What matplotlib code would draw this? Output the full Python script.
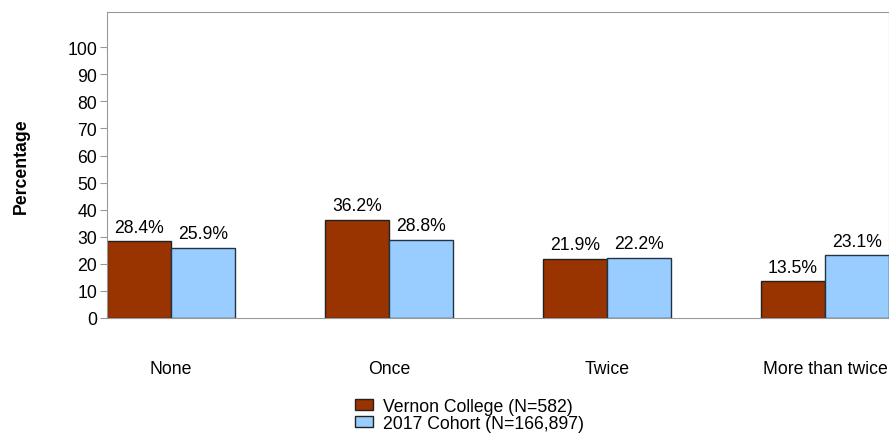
import numpy as np
import matplotlib.pyplot as plt
from matplotlib.patches import Patch

categories = ['None', 'Once', 'Twice', 'More than twice']
vernon = [28.4, 36.2, 21.9, 13.5]
cohort = [25.9, 28.8, 22.2, 23.1]
series_names = ['Vernon College (N=582)', '2017 Cohort (N=166,897)']
colors = ['#993300', '#99CCFF']

plt.rcParams['font.family'] = ['Liberation Sans', 'DejaVu Sans']
fs = 12.7

fig = plt.figure(figsize=(8.89, 4.35), dpi=100)
ax = fig.add_axes([107 / 889, 1 - 319 / 435, 782 / 889, 306 / 435])

x = np.arange(len(categories))
w = 0.294
b1 = ax.bar(x - w / 2, vernon, w, color=colors[0], edgecolor='#222222', linewidth=1)
b2 = ax.bar(x + w / 2, cohort, w, color=colors[1], edgecolor='#223344', linewidth=1)

for bars, vals in ((b1, vernon), (b2, cohort)):
    for r, v in zip(bars, vals):
        ax.annotate(f'{v:.1f}%', (r.get_x() + r.get_width() / 2, v),
                    xytext=(0, 4), textcoords='offset points',
                    ha='center', va='bottom', fontsize=fs)

ax.set_xlim(-w, 3 + w)
ax.set_ylim(0, 113)
ax.set_yticks(range(0, 101, 10))
ax.set_xticks(x)
ax.set_xticklabels(categories)
ax.tick_params(axis='x', length=0, pad=30, labelsize=fs)
ax.tick_params(axis='y', length=5, color='#999999', labelsize=fs, pad=2)
for s in ax.spines.values():
    s.set_color('#999999')
ax.set_ylabel('Percentage', fontweight='bold', fontsize=fs, labelpad=27)

handles = [Patch(facecolor=c, edgecolor='#222222', linewidth=1) for c in colors]
fig.legend(handles, series_names, loc='upper left', bbox_to_anchor=(355 / 889, 1 - 399 / 435),
           frameon=False, fontsize=fs, handlelength=1.0, handleheight=0.55,
           handletextpad=0.6, labelspacing=0.0, borderaxespad=0, borderpad=0)

fig.savefig('out.png', dpi=100)
